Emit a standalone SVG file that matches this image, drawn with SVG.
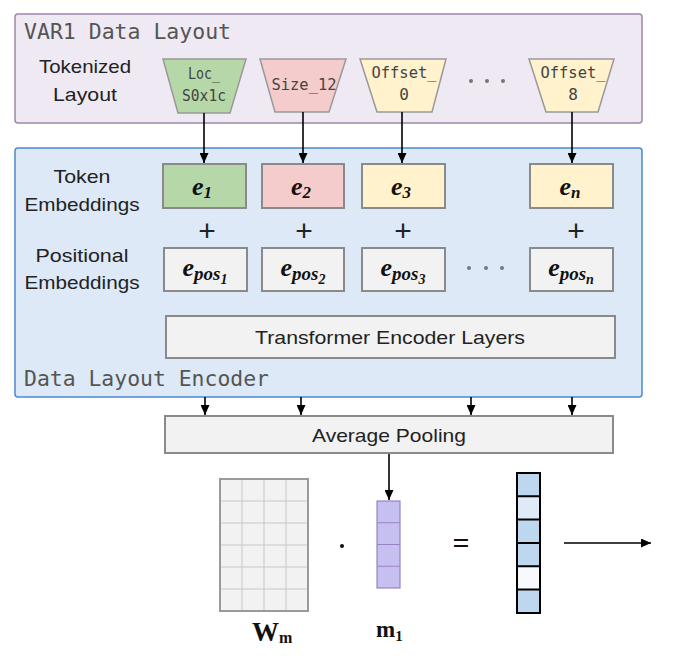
<svg xmlns="http://www.w3.org/2000/svg" width="686" height="662" viewBox="0 0 686 662">
<defs>
<marker id="ah" markerUnits="userSpaceOnUse" markerWidth="10" markerHeight="9" refX="10" refY="4.5" orient="auto">
<path d="M0,0 L10,4.5 L0,9 z" fill="#000"/>
</marker>
<style>
.mono{font-family:"DejaVu Sans Mono","Liberation Mono",monospace;}
.lbl{font-family:"Liberation Sans",Arial,sans-serif;font-size:19px;fill:#222;text-anchor:middle;}
.tok{font-family:"DejaVu Sans Mono","Liberation Mono",monospace;font-size:16px;fill:#444;text-anchor:middle;}
.trap{stroke:#999;stroke-width:1.5;}
.box{stroke:#8a8a8a;stroke-width:2;}
.emb{font-family:"Liberation Serif","Times New Roman",serif;font-weight:bold;font-style:italic;font-size:26px;fill:#111;text-anchor:middle;}
.plus{font-family:"Liberation Sans",Arial,sans-serif;font-size:30px;fill:#222;text-anchor:middle;}
.dots{fill:#777;}
.conn{stroke:#000;stroke-width:1.6;fill:none;}
.serifb{font-family:"Liberation Serif","Times New Roman",serif;font-weight:bold;fill:#111;}
</style>
</defs>

<g id="data-layout">
<rect x="15" y="14" width="627" height="109" rx="3" fill="#efe9f3" stroke="#9e87a9" stroke-width="1.5"/>
<text class="mono" x="24" y="39" font-size="22" fill="#555" textLength="207" lengthAdjust="spacingAndGlyphs">VAR1 Data Layout</text>
<text class="lbl" x="85" y="73" textLength="92" lengthAdjust="spacingAndGlyphs">Tokenized</text>
<text class="lbl" x="85" y="101" textLength="64" lengthAdjust="spacingAndGlyphs">Layout</text>
</g>

<g id="tok-loc">
<polygon class="trap" points="163,59 246,59 230,113 178,113" fill="#b6d7a8"/>
<text class="tok" x="204" y="79" textLength="32" lengthAdjust="spacingAndGlyphs">Loc_</text>
<text class="tok" x="204" y="101" textLength="44" lengthAdjust="spacingAndGlyphs">S0x1c</text>
</g>
<g id="tok-size">
<polygon class="trap" points="260,59 346,59 329,112 275,112" fill="#f4cccc"/>
<text class="tok" x="304" y="90" textLength="65" lengthAdjust="spacingAndGlyphs">Size_12</text>
</g>
<g id="tok-off0">
<polygon class="trap" points="360,59 446,59 432,112 377,112" fill="#fff2cc"/>
<text class="tok" x="404" y="78" textLength="65" lengthAdjust="spacingAndGlyphs">Offset_</text>
<text class="tok" x="404" y="100">0</text>
</g>
<g id="tok-dots">
<circle class="dots" cx="471" cy="81" r="2"/>
<circle class="dots" cx="487" cy="81" r="2"/>
<circle class="dots" cx="503" cy="81" r="2"/>
</g>
<g id="tok-off8">
<polygon class="trap" points="529,59 614,59 598,112 546,112" fill="#fff2cc"/>
<text class="tok" x="573" y="78" textLength="65" lengthAdjust="spacingAndGlyphs">Offset_</text>
<text class="tok" x="573" y="100">8</text>
</g>

<g id="encoder">
<rect x="15" y="148" width="627" height="249" rx="3" fill="#dde9f6" stroke="#4a8ad0" stroke-width="1.5"/>
<text class="mono" x="24" y="386" font-size="22" fill="#555" textLength="245" lengthAdjust="spacingAndGlyphs">Data Layout Encoder</text>
<text class="lbl" x="82" y="183" textLength="57" lengthAdjust="spacingAndGlyphs">Token</text>
<text class="lbl" x="82" y="211" textLength="115" lengthAdjust="spacingAndGlyphs">Embeddings</text>
<text class="lbl" x="82" y="262" textLength="93" lengthAdjust="spacingAndGlyphs">Positional</text>
<text class="lbl" x="82" y="289" textLength="115" lengthAdjust="spacingAndGlyphs">Embeddings</text>
</g>

<g id="e1">
<rect class="box" x="163" y="164" width="83" height="44" fill="#b6d7a8"/>
<text class="emb" x="202" y="195">e<tspan font-size="17" dy="3">1</tspan></text>
</g>
<g id="e2">
<rect class="box" x="262" y="164" width="82" height="44" fill="#f4cccc"/>
<text class="emb" x="301" y="195">e<tspan font-size="17" dy="3">2</tspan></text>
</g>
<g id="e3">
<rect class="box" x="362" y="164" width="83" height="44" fill="#fff2cc"/>
<text class="emb" x="401" y="195">e<tspan font-size="17" dy="3">3</tspan></text>
</g>
<g id="en">
<rect class="box" x="530" y="164" width="83" height="44" fill="#fff2cc"/>
<text class="emb" x="570" y="195">e<tspan font-size="17" dy="3">n</tspan></text>
</g>

<g id="plus">
<text class="plus" x="207" y="241">+</text>
<text class="plus" x="304" y="241">+</text>
<text class="plus" x="403" y="241">+</text>
<text class="plus" x="576" y="241">+</text>
</g>

<g id="pos1">
<rect class="box" x="164" y="248" width="83" height="43" fill="#f2f2f2"/>
<text class="emb" x="205" y="276">e<tspan font-size="19" dy="4">pos</tspan><tspan font-size="14" dy="4">1</tspan></text>
</g>
<g id="pos2">
<rect class="box" x="262" y="248" width="82" height="43" fill="#f2f2f2"/>
<text class="emb" x="303" y="276">e<tspan font-size="19" dy="4">pos</tspan><tspan font-size="14" dy="4">2</tspan></text>
</g>
<g id="pos3">
<rect class="box" x="362" y="248" width="83" height="43" fill="#f2f2f2"/>
<text class="emb" x="403" y="276">e<tspan font-size="19" dy="4">pos</tspan><tspan font-size="14" dy="4">3</tspan></text>
</g>
<g id="pos-dots">
<circle class="dots" cx="469" cy="268" r="2"/>
<circle class="dots" cx="486" cy="268" r="2"/>
<circle class="dots" cx="502" cy="268" r="2"/>
</g>
<g id="posn">
<rect class="box" x="530" y="248" width="83" height="43" fill="#f2f2f2"/>
<text class="emb" x="571" y="276">e<tspan font-size="19" dy="4">pos</tspan><tspan font-size="14" dy="4">n</tspan></text>
</g>

<g id="transformer">
<rect class="box" x="166" y="316" width="449" height="42" fill="#f2f2f2"/>
<text class="lbl" x="390" y="344" font-size="20" textLength="270" lengthAdjust="spacingAndGlyphs">Transformer Encoder Layers</text>
</g>

<g id="pooling">
<rect class="box" x="165" y="416" width="448" height="37" fill="#f2f2f2"/>
<text class="lbl" x="389" y="442" font-size="19" textLength="154" lengthAdjust="spacingAndGlyphs">Average Pooling</text>
</g>

<g id="matrix-w">
<rect x="220" y="479" width="88" height="132" fill="#f2f2f2"/>
<path d="M242,479V611M264,479V611M286,479V611M220,501H308M220,523H308M220,545H308M220,567H308M220,589H308" stroke="#c8c8c8" stroke-width="1"/>
<rect x="220" y="479" width="88" height="132" fill="none" stroke="#9a9a9a" stroke-width="2"/>
<text class="serifb" x="252" y="641" font-size="27">W<tspan font-size="16" dy="2">m</tspan></text>
</g>

<g id="dot-op">
<circle cx="342" cy="546" r="2" fill="#111"/>
</g>

<g id="vector-m1">
<rect x="377" y="501" width="23" height="87" fill="#c5c0f0" stroke="#9a82c2" stroke-width="1.2"/>
<path d="M377,522.75H400M377,544.5H400M377,566.25H400" stroke="#9a82c2" stroke-width="1.2"/>
<text class="serifb" x="376" y="637" font-size="23">m<tspan font-size="15" dy="4">1</tspan></text>
</g>

<g id="equals">
<text class="serifb" x="461" y="553" font-size="30" text-anchor="middle">=</text>
</g>

<g id="vector-out">
<rect x="517" y="473" width="23" height="23.3" fill="#bdd7ee"/>
<rect x="517" y="496.3" width="23" height="23.3" fill="#deebf7"/>
<rect x="517" y="519.6" width="23" height="23.3" fill="#bdd7ee"/>
<rect x="517" y="542.9" width="23" height="23.3" fill="#bdd7ee"/>
<rect x="517" y="566.2" width="23" height="23.3" fill="#f7f9fc"/>
<rect x="517" y="589.5" width="23" height="23.5" fill="#bdd7ee"/>
<path d="M517,496.3H540M517,519.6H540M517,542.9H540M517,566.2H540M517,589.5H540" stroke="#000" stroke-width="2"/>
<rect x="517" y="473" width="23" height="140" fill="none" stroke="#000" stroke-width="2"/>
</g>

<g id="connectors">
<line class="conn" x1="204" y1="113" x2="204" y2="163" marker-end="url(#ah)"/>
<line class="conn" x1="303" y1="112" x2="303" y2="163" marker-end="url(#ah)"/>
<line class="conn" x1="402" y1="112" x2="402" y2="163" marker-end="url(#ah)"/>
<line class="conn" x1="572" y1="112" x2="572" y2="163" marker-end="url(#ah)"/>
<line class="conn" x1="205" y1="397" x2="205" y2="415" marker-end="url(#ah)"/>
<line class="conn" x1="301" y1="397" x2="301" y2="415" marker-end="url(#ah)"/>
<line class="conn" x1="471" y1="397" x2="471" y2="415" marker-end="url(#ah)"/>
<line class="conn" x1="572" y1="397" x2="572" y2="415" marker-end="url(#ah)"/>
<line class="conn" x1="389" y1="454" x2="389" y2="500" marker-end="url(#ah)"/>
<line class="conn" x1="564" y1="543" x2="651" y2="543" marker-end="url(#ah)"/>
</g>
</svg>
